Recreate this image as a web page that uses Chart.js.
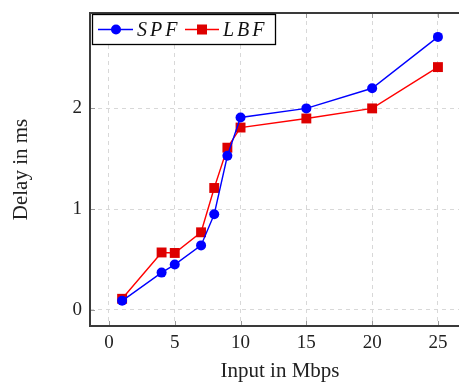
<!DOCTYPE html>
<html><head><meta charset="utf-8">
<script src="https://cdn.jsdelivr.net/npm/chart.js@4"></script>
<style>html,body{margin:0;padding:0;background:#fff;overflow:hidden}#w{width:459px;height:383px}</style>
</head><body><div id="w"><canvas id="c" width="459" height="383"></canvas></div>
<script>
const xValues = [1, 4, 5, 7, 8, 9, 10, 15, 20, 25];
const spfValues = [0.09, 0.37, 0.45, 0.64, 0.95, 1.53, 1.91, 2.0, 2.2, 2.71];
const lbfValues = [0.11, 0.57, 0.565, 0.77, 1.21, 1.61, 1.81, 1.9, 2.0, 2.41];
const xTicks = [0, 5, 10, 15, 20, 25];
const yTicks = [0, 1, 2];
const seriesNames = ['SPF', 'LBF'];
const xTitle = 'Input in Mbps';
const yTitle = 'Delay in ms';

const FONT = '"Liberation Serif", "DejaVu Serif", serif';
const BLUE = '#0000ff', RED = '#ff0000', REDF = '#dd0000';

const frame = {
  id: 'frame',
  afterDatasetsDraw(chart) {
    const {ctx, chartArea: a, scales: {x, y}} = chart;
    ctx.save();
    ctx.strokeStyle = '#999'; ctx.lineWidth = 1;
    xTicks.forEach(v => {
      const px = Math.round(x.getPixelForValue(v)) + 0.5;
      ctx.beginPath(); ctx.moveTo(px, a.bottom); ctx.lineTo(px, a.bottom - 5); ctx.stroke();
      ctx.beginPath(); ctx.moveTo(px, a.top); ctx.lineTo(px, a.top + 5); ctx.stroke();
    });
    yTicks.forEach(v => {
      const py = Math.round(y.getPixelForValue(v)) + 0.5;
      ctx.beginPath(); ctx.moveTo(a.left, py); ctx.lineTo(a.left + 5, py); ctx.stroke();
    });
    ctx.strokeStyle = '#3a3a3a'; ctx.lineWidth = 2;
    ctx.beginPath();
    ctx.moveTo(chart.width + 2, a.top); ctx.lineTo(a.left, a.top);
    ctx.lineTo(a.left, a.bottom); ctx.lineTo(chart.width + 2, a.bottom);
    ctx.stroke();
    // x axis title (centred on the full, uncropped plot width)
    ctx.fillStyle = '#222';
    ctx.font = '21px ' + FONT;
    ctx.textAlign = 'center'; ctx.textBaseline = 'middle';
    ctx.fillText(xTitle, 280, 371);
    // legend
    const lx = 92.5, ly = a.top + 1.5, lw = 183, lh = 30;
    ctx.fillStyle = '#fff'; ctx.fillRect(lx, ly, lw, lh);
    ctx.strokeStyle = '#000'; ctx.lineWidth = 1.3; ctx.strokeRect(lx, ly, lw, lh);
    const cy = ly + 15;
    ctx.strokeStyle = BLUE; ctx.lineWidth = 1.3;
    ctx.beginPath(); ctx.moveTo(98, cy); ctx.lineTo(133, cy); ctx.stroke();
    ctx.fillStyle = BLUE; ctx.beginPath(); ctx.arc(116, cy, 5, 0, Math.PI * 2); ctx.fill();
    ctx.strokeStyle = RED;
    ctx.beginPath(); ctx.moveTo(185, cy); ctx.lineTo(219, cy); ctx.stroke();
    ctx.fillStyle = REDF; ctx.fillRect(197, cy - 5, 10, 10);
    ctx.fillStyle = '#111';
    ctx.font = 'italic 20px ' + FONT;
    ctx.textBaseline = 'middle'; ctx.textAlign = 'left';
    ctx.letterSpacing = '3px';
    ctx.fillText(seriesNames[0], 137, cy + 1);
    ctx.fillText(seriesNames[1], 223, cy + 1);
    ctx.restore();
  }
};

new Chart(document.getElementById('c'), {
  type: 'scatter',
  plugins: [frame],
  data: {
    datasets: [
      {label: seriesNames[0], data: xValues.map((v, i) => ({x: v, y: spfValues[i]})),
       showLine: true, borderColor: BLUE, backgroundColor: BLUE, borderWidth: 1.4,
       pointStyle: 'circle', pointRadius: 5, pointHoverRadius: 5, pointBorderWidth: 0},
      {label: seriesNames[1], data: xValues.map((v, i) => ({x: v, y: lbfValues[i]})),
       showLine: true, borderColor: RED, backgroundColor: REDF, borderWidth: 1.4,
       pointStyle: 'rect', pointRadius: 7, pointHoverRadius: 7, pointBorderWidth: 0}
    ]
  },
  options: {
    responsive: false, animation: false, devicePixelRatio: 1,
    layout: {autoPadding: false, padding: {top: 13, right: 0, left: 0, bottom: 0}},
    plugins: {legend: {display: false}, tooltip: {enabled: false}},
    scales: {
      x: {
        type: 'linear', min: -1.44, max: 26.6,
        afterBuildTicks: s => { s.ticks = xTicks.map(v => ({value: v})); },
        afterFit: s => { s.height = 57; s.paddingLeft = 0; s.paddingRight = 0; },
        grid: {color: '#d8d8d8', drawTicks: false},
        border: {display: false, dash: [4, 4]},
        ticks: {font: {family: FONT, size: 19}, color: '#222', padding: 6, maxRotation: 0},
        title: {display: false, text: xTitle}
      },
      y: {
        type: 'linear', min: -0.16, max: 2.947,
        afterBuildTicks: s => { s.ticks = yTicks.map(v => ({value: v})); },
        afterFit: s => { s.width = 90; s.paddingTop = 0; s.paddingBottom = 0; },
        grid: {color: '#d8d8d8', drawTicks: false},
        border: {display: false, dash: [4, 4]},
        ticks: {font: {family: FONT, size: 19}, color: '#222', padding: 8},
        title: {display: true, text: yTitle, font: {family: FONT, size: 21}, color: '#222', padding: {top: 9, bottom: 20}}
      }
    }
  }
});
</script></body></html>
